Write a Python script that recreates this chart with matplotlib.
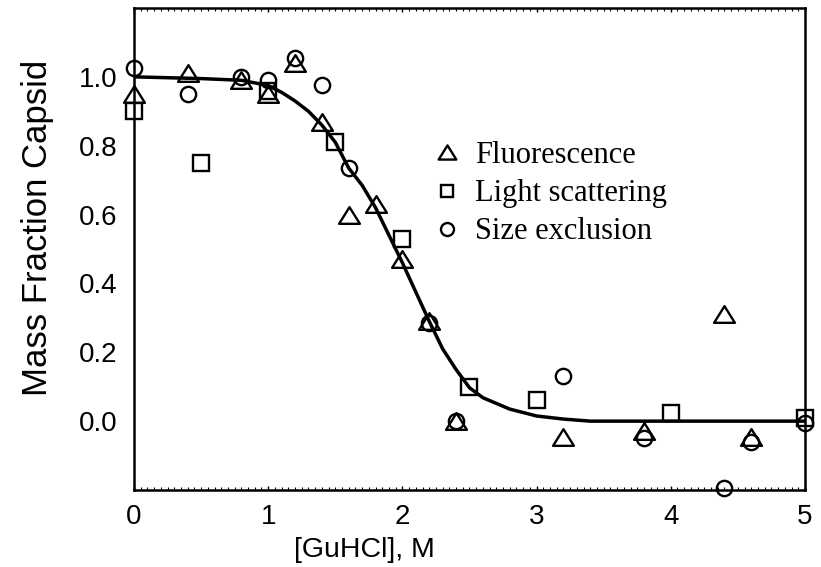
import numpy as np
import matplotlib
matplotlib.use("Agg")
import matplotlib.pyplot as plt
from matplotlib.path import Path
from matplotlib.ticker import MultipleLocator

# data
fl_x = [0, 0.4, 0.8, 1.0, 1.2, 1.4, 1.6, 1.8, 2.0, 2.2, 2.4, 3.2, 3.8, 4.4, 4.6]
fl_y = [0.95, 1.01, 0.99, 0.95, 1.04, 0.87, 0.60, 0.63, 0.47, 0.29, 0.0, -0.045, -0.03, 0.31, -0.045]

ls_x = [0, 0.5, 1.0, 1.5, 2.0, 2.5, 3.0, 4.0, 5.0]
ls_y = [0.90, 0.75, 0.96, 0.81, 0.53, 0.10, 0.06, 0.023, 0.01]

se_x = [0, 0.4, 0.8, 1.0, 1.2, 1.4, 1.6, 2.2, 2.4, 3.2, 3.8, 4.4, 4.6, 5.0]
se_y = [1.025, 0.95, 1.0, 0.99, 1.055, 0.975, 0.735, 0.285, 0.0, 0.13, -0.05, -0.195, -0.06, -0.005]

# fitted curve, traced
fit_x = [0, 0.5, 0.8, 1.0, 1.1, 1.2, 1.3, 1.4, 1.5, 1.6, 1.7, 1.8, 1.9, 2.0, 2.1,
         2.2, 2.3, 2.4, 2.5, 2.6, 2.8, 3.0, 3.2, 3.4, 5.0]
fit_y = [1.0, 0.995, 0.99, 0.975, 0.955, 0.93, 0.90, 0.86, 0.81, 0.735, 0.685, 0.62,
         0.54, 0.46, 0.375, 0.29, 0.21, 0.15, 0.097, 0.068, 0.035, 0.015, 0.006, 0.0, 0.0]

plt.rcParams['font.family'] = ['Liberation Sans', 'DejaVu Sans']

fig = plt.figure(figsize=(8.21, 5.67), dpi=100)
ax = fig.add_axes([0.1632, 0.1358, 0.8173, 0.8501])

# wide open triangle
tri = Path([(0, 0.8), (-1, -0.8), (1, -0.8), (0, 0.8)],
           [Path.MOVETO, Path.LINETO, Path.LINETO, Path.CLOSEPOLY])
mk = dict(linestyle='none', mfc='none', mec='black', mew=1.7, clip_on=False, zorder=3)

ax.plot(fit_x, fit_y, color='black', lw=2.5, zorder=2)
ax.plot(fl_x, fl_y, marker=tri, ms=15, label='Fluorescence', **mk)
ax.plot(ls_x, ls_y, marker='s', ms=11, label='Light scattering', **mk)
ax.plot(se_x, se_y, marker='o', ms=11, label='Size exclusion', **mk)

ax.set_xlim(0, 5)
ax.set_ylim(-0.2, 1.2)
ax.set_xticks([0, 1, 2, 3, 4, 5])
ax.set_yticks([0.0, 0.2, 0.4, 0.6, 0.8, 1.0])
ax.set_yticklabels(['0.0', '0.2', '0.4', '0.6', '0.8', '1.0'])
ax.xaxis.set_minor_locator(MultipleLocator(0.05))
ax.tick_params(axis='x', which='major', direction='in', length=3, width=1, top=True,
               labelsize=20, pad=10)
ax.tick_params(axis='x', which='minor', direction='in', length=2, width=0.8, top=True)
ax.tick_params(axis='y', length=0, labelsize=20, pad=12)
for s in ax.spines.values():
    s.set_linewidth(1.8)

ax.set_xlabel('[GuHCl], M', fontsize=20.5)
ax.xaxis.set_label_coords(0.344, -0.097)
ax.set_ylabel('Mass Fraction Capsid', fontsize=25)
ax.yaxis.set_label_coords(-0.119, 0.544)

ax.legend(loc='upper left', bbox_to_anchor=(0.4486, 0.724), frameon=False,
          prop={'family': 'Liberation Serif', 'size': 22}, markerscale=0.85,
          handlelength=0.8, handletextpad=0.5, labelspacing=0.3,
          borderpad=0, borderaxespad=0, numpoints=1)

fig.savefig('out.png', dpi=100)
